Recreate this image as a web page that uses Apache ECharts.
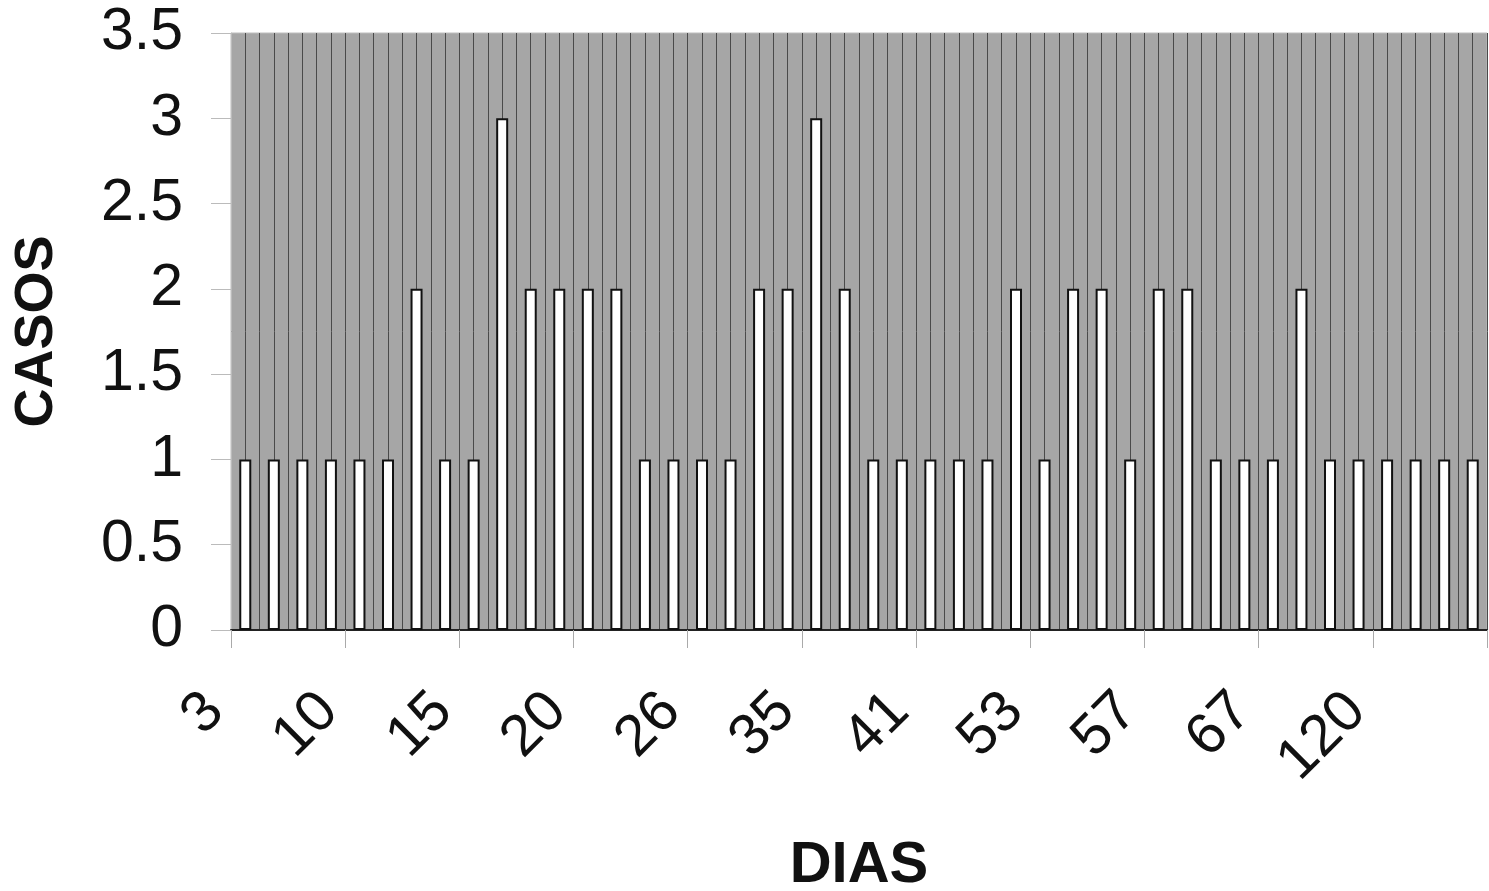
<!DOCTYPE html>
<html><head><meta charset="utf-8">
<script src="https://cdn.jsdelivr.net/npm/echarts@6/dist/echarts.min.js"></script>
<style>html,body{margin:0;padding:0;background:#fff}#c{width:1489px;height:891px}</style>
</head><body><div id="c"></div>
<script>
// Day categories (only every 4th is printed in the reference; the others are estimates)
const dias = ['3','5','7','8','10','11','12','14','15','16','17','18','20','21','22','24',
  '26','28','30','33','35','36','38','40','41','43','45','49','53','54','55','56',
  '57','59','61','64','67','75','85','100','120','130','150','180'];
const casos = [1,1,1,1,1,1,2,1,1,3,2,2,2,2,1,1,1,1,2,2,3,2,1,1,1,1,1,2,1,2,2,1,2,2,1,1,1,2,1,1,1,1,1,1];
const yTicks = [0,0.5,1,1.5,2,2.5,3,3.5];

const font = 'Liberation Sans, Arial, sans-serif';
const chart = echarts.init(document.getElementById('c'));
chart.setOption({
  animation: false,
  grid: { left: 231, top: 33, right: 2, bottom: 261, outerBoundsMode: 'none', containLabel: false,
    show: true, backgroundColor: '#a6a6a6', borderColor: '#bdbdbd', borderWidth: 1 },
  xAxis: [{
    type: 'category', data: dias,
    name: 'DIAS', nameLocation: 'middle', nameGap: 207,
    nameTextStyle: { fontFamily: font, fontWeight: 'bold', fontSize: 58, color: '#111' },
    axisLine: { lineStyle: { color: '#222', width: 2 } },
    axisTick: { show: true, length: 18, lineStyle: { color: '#aaa' }, alignWithLabel: false },
    axisLabel: { interval: 3, rotate: 45, margin: 42, fontFamily: font, fontSize: 58, color: '#111', padding: [0, 43, 0, 0] },
    splitLine: { show: false }
  }, {
    type: 'value', min: 0, max: dias.length * 2, interval: 1, position: 'bottom',
    axisLine: { show: false }, axisTick: { show: false }, axisLabel: { show: false },
    splitLine: { show: true, lineStyle: { color: '#4a4a4a', width: 1 } }
  }],
  yAxis: {
    type: 'value', min: 0, max: 3.5, interval: 0.5,
    name: 'CASOS', nameLocation: 'middle', nameGap: 167, nameRotate: 90,
    nameTextStyle: { fontFamily: font, fontWeight: 'bold', fontSize: 54, color: '#111' },
    axisLine: { show: true, lineStyle: { color: '#bbb' } },
    axisTick: { show: true, length: 20, lineStyle: { color: '#bbb' } },
    axisLabel: { margin: 48, fontFamily: font, fontSize: 59, color: '#111',
      formatter: v => yTicks.includes(v) ? String(v) : '' },
    splitLine: { show: false }
  },
  series: [{
    type: 'bar', xAxisIndex: 0, data: casos, barWidth: 12,
    itemStyle: { color: '#ffffff', borderColor: '#111', borderWidth: 2 }
  }]
});
</script></body></html>
